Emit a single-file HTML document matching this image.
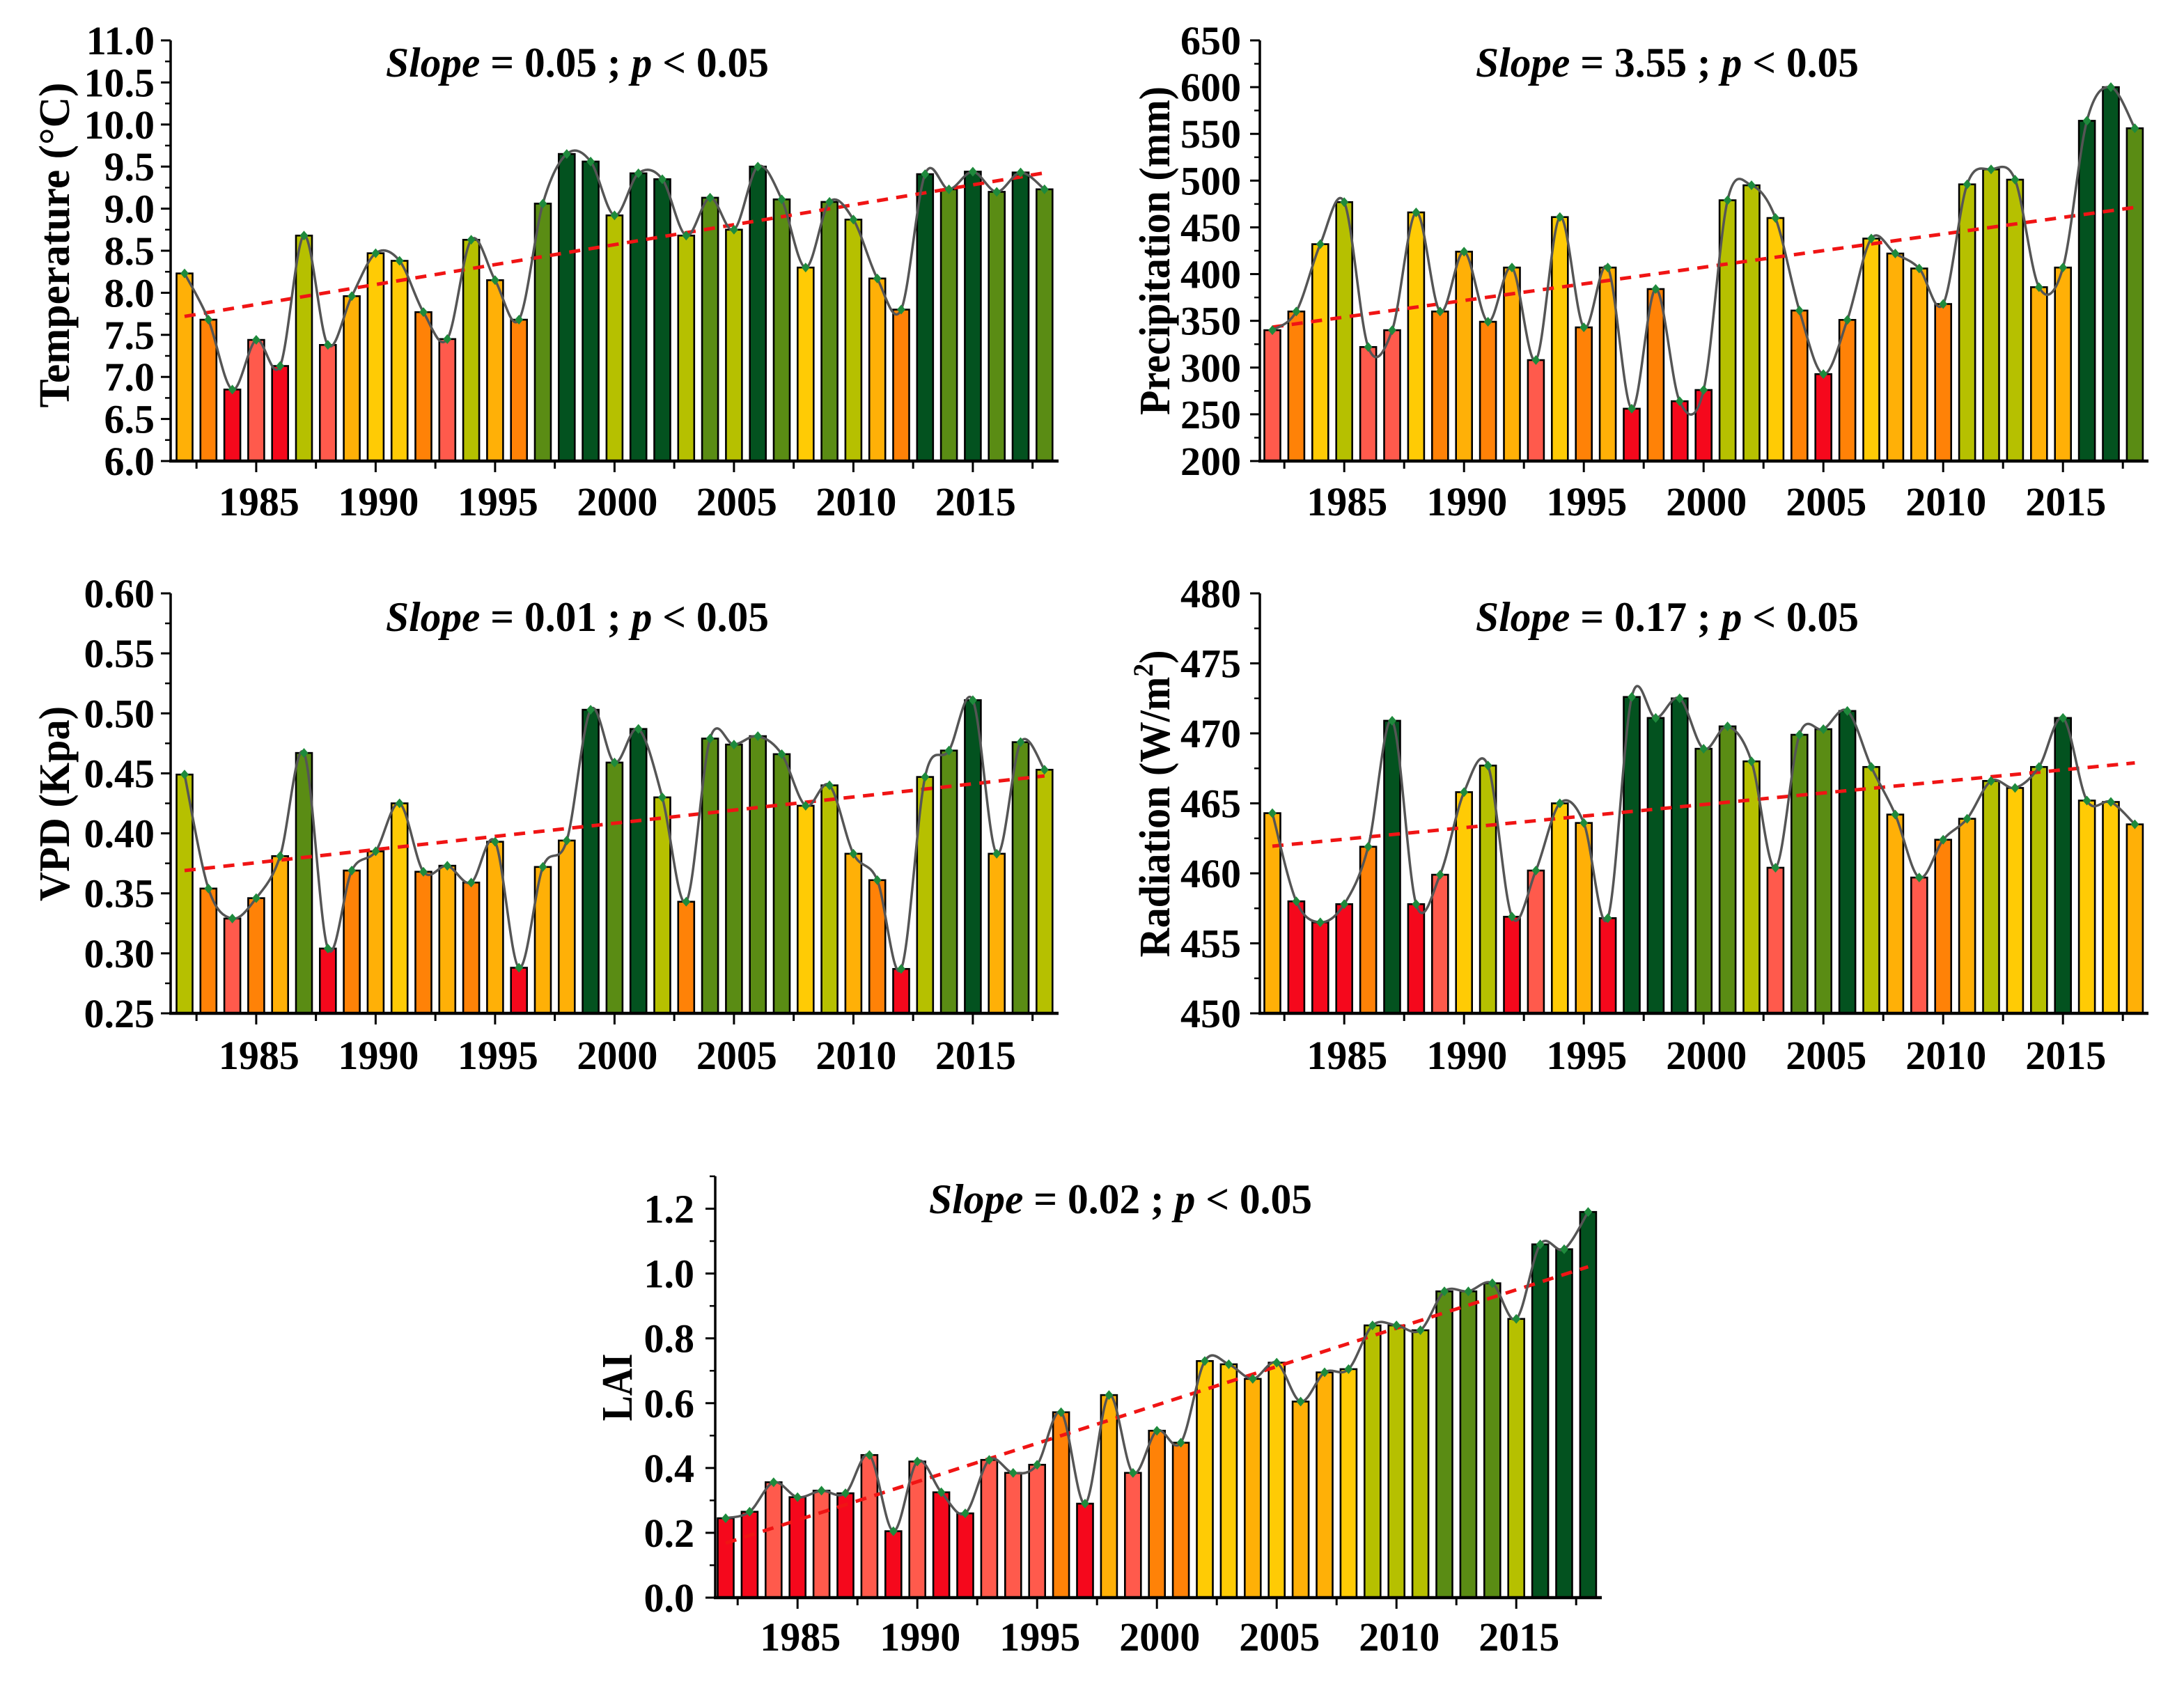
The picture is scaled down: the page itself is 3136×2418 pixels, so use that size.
<!DOCTYPE html>
<html><head><meta charset="utf-8"><style>
html,body{margin:0;padding:0;background:#fff;}
svg{display:block;font-family:"Liberation Serif",serif;}
</style></head><body>
<svg id="chart" width="3136" height="2418" viewBox="0 0 3136 2418" xmlns="http://www.w3.org/2000/svg">
<rect width="3136" height="2418" fill="#fff"/>
</svg>
<script>
const years = [1982,1983,1984,1985,1986,1987,1988,1989,1990,1991,1992,1993,1994,1995,1996,1997,1998,1999,2000,2001,2002,2003,2004,2005,2006,2007,2008,2009,2010,2011,2012,2013,2014,2015,2016,2017,2018];
const temperature = [8.23,7.68,6.85,7.44,7.13,8.68,7.38,7.96,8.47,8.38,7.77,7.45,8.63,8.15,7.68,9.06,9.65,9.56,8.92,9.42,9.35,8.68,9.13,8.75,9.50,9.11,8.30,9.08,8.87,8.17,7.80,9.41,9.23,9.44,9.20,9.43,9.23];
const precipitation = [340,360,432,477,322,340,466,360,424,349,407,308,461,343,407,256,384,264,276,479,495,460,361,293,351,438,422,406,368,496,512,501,386,407,564,600,556];
const vpd = [0.449,0.354,0.329,0.346,0.381,0.467,0.304,0.369,0.385,0.425,0.368,0.373,0.359,0.393,0.288,0.372,0.394,0.503,0.459,0.487,0.430,0.343,0.479,0.474,0.481,0.466,0.423,0.440,0.383,0.361,0.287,0.447,0.469,0.511,0.383,0.476,0.453];
const radiation = [464.3,458.0,456.5,457.8,461.9,470.9,457.8,459.9,465.8,467.7,456.9,460.2,465.0,463.6,456.8,472.6,471.1,472.5,468.9,470.5,468.0,460.4,469.9,470.3,471.6,467.6,464.2,459.7,462.4,463.9,466.6,466.1,467.6,471.1,465.2,465.1,463.5];
const lai = [0.245,0.265,0.356,0.31,0.33,0.322,0.44,0.205,0.42,0.325,0.26,0.425,0.385,0.41,0.572,0.29,0.625,0.385,0.515,0.478,0.73,0.72,0.675,0.725,0.605,0.695,0.705,0.84,0.84,0.825,0.945,0.945,0.97,0.86,1.09,1.075,1.19];
const xTickLabels = [1985,1990,1995,2000,2005,2010,2015];
const slopeLabels = ["0.05","3.55","0.01","0.17","0.02"];

const NS = "http://www.w3.org/2000/svg";
const svg = document.getElementById('chart');
const palette = ["#f5081c","#ff5a4c","#ff8207","#ffb007","#ffcb05","#b6c000","#5a8c14","#03521f"];

function mk(tag, attrs, parent){
  const e = document.createElementNS(NS, tag);
  for (const k in attrs) e.setAttribute(k, attrs[k]);
  (parent||svg).appendChild(e);
  return e;
}

const panels = [
  {key:'temperature', vals:temperature, slope:slopeLabels[0], axL:245, axR:1520, x0:265, dx:34.3, yTop:58, yBot:662, vmin:6, vmax:11, step:0.5, dec:1, labR:222, tCx:829, tBase:110, xBase:740, ylab:'Temperature (°C)', ylx:77, yly:352, yll:467},
  {key:'precipitation', vals:precipitation, slope:slopeLabels[1], axL:1809, axR:3085, x0:1827, dx:34.4, yTop:58, yBot:662, vmin:200, vmax:650, step:50, dec:0, labR:1782, tCx:2394, tBase:110, xBase:740, ylab:'Precipitation (mm)', ylx:1657, yly:360, yll:472},
  {key:'vpd', vals:vpd, slope:slopeLabels[2], axL:245, axR:1520, x0:265, dx:34.3, yTop:852, yBot:1455, vmin:0.25, vmax:0.60, step:0.05, dec:2, labR:222, tCx:829, tBase:906, xBase:1535, ylab:'VPD (Kpa)', ylx:77, yly:1154, yll:280},
  {key:'radiation', vals:radiation, slope:slopeLabels[3], axL:1809, axR:3085, x0:1827, dx:34.4, yTop:852, yBot:1455, vmin:450, vmax:480, step:5, dec:0, labR:1782, tCx:2394, tBase:906, xBase:1535, ylab:'Radiation (W/m', ylx:1657, yly:1154, yll:441, sup:true},
  {key:'lai', vals:lai, slope:slopeLabels[4], axL:1027, axR:2300, x0:1042, dx:34.4, yTop:1689, yBot:2294, vmin:0, vmax:1.3, step:0.2, dec:1, labR:997, tCx:1609, tBase:1742, xBase:2370, ylab:'LAI', ylx:885, yly:1992, yll:97, tickMax:1.2}
];

panels.forEach(p => {
  const g = mk('g', {});
  
  
  const xs = yr => p.x0 + (yr - years[0]) * p.dx;
  const ys = v => p.yBot - (v - p.vmin) / (p.vmax - p.vmin) * (p.yBot - p.yTop);
  const vals = p.vals;
  const mn = Math.min(...vals), mx = Math.max(...vals);
  const colorOf = v => palette[Math.min(7, Math.floor((v - mn) / (mx - mn) * 8))];

  vals.forEach((v, i) => {
    const x = xs(years[i]);
    const b = mk('rect', {x: x - 11.5, y: ys(v), width: 23, height: p.yBot - ys(v), fill: colorOf(v), stroke: '#000', 'stroke-width': 2.6}, g);
    
    
  });

  const n = vals.length;
  const mxr = years.reduce((a, b) => a + b, 0) / n;
  const myr = vals.reduce((a, b) => a + b, 0) / n;
  let sxy = 0, sxx = 0;
  years.forEach((y, i) => { sxy += (y - mxr) * (vals[i] - myr); sxx += (y - mxr) * (y - mxr); });
  const slope = sxy / sxx;
  const fy = y => myr + slope * (y - mxr);
  const tl = mk('line', {x1: xs(years[0]), y1: ys(fy(years[0])), x2: xs(years[n - 1]), y2: ys(fy(years[n - 1])), stroke: '#f01414', 'stroke-width': 5, 'stroke-dasharray': '16 12'}, g);
  
  

  const pts = vals.map((v, i) => [xs(years[i]), ys(v)]);
  let d = 'M' + pts[0][0] + ' ' + pts[0][1];
  for (let i = 0; i < pts.length - 1; i++) {
    const p0 = pts[Math.max(0, i - 1)], p1 = pts[i], p2 = pts[i + 1], p3 = pts[Math.min(pts.length - 1, i + 2)];
    const c1 = [p1[0] + (p2[0] - p0[0]) / 6, p1[1] + (p2[1] - p0[1]) / 6];
    const c2 = [p2[0] - (p3[0] - p1[0]) / 6, p2[1] - (p3[1] - p1[1]) / 6];
    d += ' C' + c1[0] + ' ' + c1[1] + ' ' + c2[0] + ' ' + c2[1] + ' ' + p2[0] + ' ' + p2[1];
  }
  const cv = mk('path', {d: d, fill: 'none', stroke: '#555', 'stroke-width': 3.5}, g);
  
  

  pts.forEach((pt, i) => {
    const m = mk('path', {d: `M${pt[0]} ${pt[1] - 7} L${pt[0] + 6} ${pt[1]} L${pt[0]} ${pt[1] + 7} L${pt[0] - 6} ${pt[1]} Z`, fill: '#1e8a3c'}, g);
    
    
  });

  const ya = mk('line', {x1: p.axL, y1: p.yTop, x2: p.axL, y2: p.yBot + 2, stroke: '#000', 'stroke-width': 3.5}, g);
  
  
  const xa = mk('line', {x1: p.axL - 2, y1: p.yBot, x2: p.axR, y2: p.yBot, stroke: '#000', 'stroke-width': 4.5}, g);
  
  

  const tMax = p.tickMax !== undefined ? p.tickMax : p.vmax;
  const nT = Math.round((tMax - p.vmin) / p.step);
  for (let k = 0; k <= nT; k++) {
    const v = p.vmin + k * p.step;
    const y = ys(v);
    mk('line', {x1: p.axL - 14, y1: y, x2: p.axL, y2: y, stroke: '#000', 'stroke-width': 3}, g);
    const t = mk('text', {x: p.labR, y: y + 20, 'text-anchor': 'end', 'font-size': 58, 'font-weight': 'bold', fill: '#000'}, g);
    t.textContent = v.toFixed(p.dec);
    
    
  }
  for (let v = p.vmin + p.step / 2; v < p.vmax + 1e-9; v += p.step) {
    const y = ys(v);
    mk('line', {x1: p.axL - 8, y1: y, x2: p.axL, y2: y, stroke: '#000', 'stroke-width': 2.5}, g);
  }

  for (let yr = 1982.5; yr <= 2018; yr += 2.5) {
    const x = xs(yr);
    const major = Math.abs(yr % 5) < 1e-9;
    mk('line', {x1: x, y1: p.yBot, x2: x, y2: p.yBot + (major ? 16 : 11), stroke: '#000', 'stroke-width': 3}, g);
  }
  xTickLabels.forEach(yr => {
    const t = mk('text', {x: xs(yr) + 4, y: p.xBase, 'text-anchor': 'middle', 'font-size': 58, 'font-weight': 'bold', fill: '#000'}, g);
    t.textContent = yr;
    
    
  });

  const tt = mk('text', {x: p.tCx, y: p.tBase, 'text-anchor': 'middle', 'font-size': 60, 'font-weight': 'bold', fill: '#000', textLength: 550, lengthAdjust: 'spacingAndGlyphs'}, g);
  tt.innerHTML = '<tspan font-style="italic">Slope</tspan> = ' + p.slope + ' ; <tspan font-style="italic">p</tspan> &lt; 0.05';
  
  

  const yt = mk('text', {x: 0, y: 0, transform: `translate(${p.ylx + 22},${p.yly}) rotate(-90)`, 'text-anchor': 'middle', 'font-size': 62, 'font-weight': 'bold', fill: '#000', textLength: p.yll, lengthAdjust: 'spacingAndGlyphs'}, g);
  if (p.sup) {
    yt.innerHTML = 'Radiation (W/m<tspan dy="-24" font-size="40">2</tspan><tspan dy="24">)</tspan>';
  } else {
    yt.textContent = p.ylab;
  }
  
  
});
</script>
</body></html>
